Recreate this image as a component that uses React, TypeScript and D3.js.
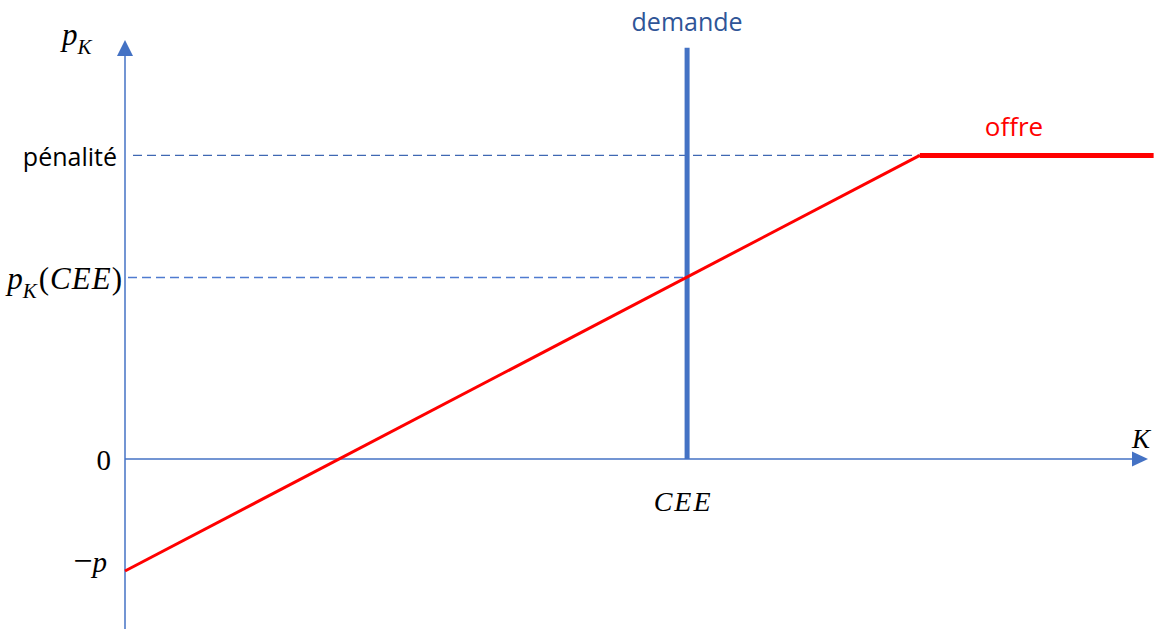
import { useEffect, useRef } from "react"
import * as d3 from "d3"

// abstract units
const kCEE = 5
const kKink = 7.07
const kEnd = 9.15
const pMinus = -1
const pCEE = 1.62
const pPenalty = 2.71
const pDemandTop = 3.67

const supplySlope = [
  { k: 0, p: pMinus },
  { k: kKink, p: pPenalty },
]
const supplyFlat = [
  { k: kKink, p: pPenalty },
  { k: kEnd, p: pPenalty },
]
const demand = [
  { k: kCEE, p: 0 },
  { k: kCEE, p: pDemandTop },
]

const axisBlue = "#4472c4"
const mathFont = "'Liberation Serif', 'DejaVu Serif', serif"
const textFont = "'Open Sans', Lato, sans-serif"

export default function App() {
  const svgRef = useRef(null)

  useEffect(() => {
    if (!svgRef.current) return
    const svg = d3.select(svgRef.current)
    svg.selectAll("*").remove()

    const width = 1154
    const height = 629

    const x = d3.scaleLinear().domain([0, 9.1]).range([125, 1148])
    const y = d3.scaleLinear().domain([-1.5, 3.74]).range([627, 40])

    const line = d3
      .line<{ k: number; p: number }>()
      .x((d) => x(d.k))
      .y((d) => y(d.p))

    // axes
    svg.append("line")
      .attr("x1", x(0)).attr("x2", x(0))
      .attr("y1", height).attr("y2", y(3.74) + 14)
      .attr("stroke", axisBlue).attr("stroke-width", 1.5)
    svg.append("path")
      .attr("d", `M${x(0)},${y(3.74)} L${x(0) - 8},${y(3.74) + 16} L${x(0) + 8},${y(3.74) + 16} Z`)
      .attr("fill", axisBlue)

    svg.append("line")
      .attr("x1", x(0)).attr("x2", x(9.1) - 14)
      .attr("y1", y(0)).attr("y2", y(0))
      .attr("stroke", axisBlue).attr("stroke-width", 1.5)
    svg.append("path")
      .attr("d", `M${x(9.1)},${y(0)} L${x(9.1) - 16},${y(0) - 7.5} L${x(9.1) - 16},${y(0) + 7.5} Z`)
      .attr("fill", axisBlue)

    // dashed guides
    svg.append("line")
      .attr("x1", x(0) + 8).attr("x2", x(kKink))
      .attr("y1", y(pPenalty)).attr("y2", y(pPenalty))
      .attr("stroke", "#3f68b3").attr("stroke-width", 1.3)
      .attr("stroke-dasharray", "9,5")
    svg.append("line")
      .attr("x1", x(0) + 3).attr("x2", x(kCEE))
      .attr("y1", y(pCEE)).attr("y2", y(pCEE))
      .attr("stroke", "#4f7bd0").attr("stroke-width", 1.5)
      .attr("stroke-dasharray", "9,5")

    // demand
    svg.append("path")
      .datum(demand)
      .attr("d", line)
      .attr("fill", "none")
      .attr("stroke", axisBlue)
      .attr("stroke-width", 5)

    // supply
    svg.append("path")
      .datum(supplySlope)
      .attr("d", line)
      .attr("fill", "none")
      .attr("stroke", "#ff0000")
      .attr("stroke-width", 3)
    svg.append("path")
      .datum(supplyFlat)
      .attr("d", line)
      .attr("fill", "none")
      .attr("stroke", "#ff0000")
      .attr("stroke-width", 5)

    // labels
    const pk = svg.append("text")
      .attr("x", 62).attr("y", 45)
      .attr("font-family", mathFont).attr("font-style", "italic").attr("font-size", 31)
    pk.append("tspan").text("p")
    pk.append("tspan").attr("dy", 9).attr("font-size", 21).text("K")

    svg.append("text")
      .attr("x", 117).attr("y", y(pPenalty) + 11)
      .attr("text-anchor", "end")
      .attr("font-family", textFont).attr("font-size", 25)
      .text("pénalité")

    const pkc = svg.append("text")
      .attr("x", 122).attr("y", y(pCEE) + 12)
      .attr("text-anchor", "end")
      .attr("font-family", mathFont).attr("font-size", 31)
    pkc.append("tspan").attr("font-style", "italic").text("p")
    pkc.append("tspan").attr("font-style", "italic").attr("dy", 9).attr("font-size", 21).text("K")
    pkc.append("tspan").attr("dy", -9).attr("dx", 2).text("(")
    pkc.append("tspan").attr("font-style", "italic").attr("dx", 1).attr("letter-spacing", 1).text("CEE")
    pkc.append("tspan").text(")")

    svg.append("text")
      .attr("x", 111).attr("y", y(0) + 11)
      .attr("text-anchor", "end")
      .attr("font-family", mathFont).attr("font-size", 29)
      .text("0")

    const mp = svg.append("text")
      .attr("x", 107).attr("y", y(pMinus) + 1)
      .attr("text-anchor", "end")
      .attr("font-family", mathFont).attr("font-size", 29)
    mp.append("tspan").attr("font-size", 34).text("−")
    mp.append("tspan").attr("font-style", "italic").text("p")

    svg.append("text")
      .attr("x", 1141).attr("y", 448)
      .attr("text-anchor", "middle")
      .attr("font-family", mathFont).attr("font-style", "italic").attr("font-size", 27)
      .text("K")

    svg.append("text")
      .attr("x", x(kCEE) - 4).attr("y", 511)
      .attr("text-anchor", "middle")
      .attr("font-family", mathFont).attr("font-style", "italic").attr("font-size", 28)
      .attr("letter-spacing", 2)
      .text("CEE")

    svg.append("text")
      .attr("x", x(kCEE)).attr("y", 31)
      .attr("text-anchor", "middle")
      .attr("font-family", textFont).attr("font-size", 25)
      .attr("fill", "#2f5597")
      .text("demande")

    svg.append("text")
      .attr("x", 1014).attr("y", 136)
      .attr("text-anchor", "middle")
      .attr("font-family", textFont).attr("font-size", 26)
      .attr("fill", "#ff0000")
      .text("offre")

    svg.attr("width", width).attr("height", height).attr("viewBox", [0, 0, width, height])
  }, [])

  return (
    <div style={{ position: "absolute", left: 0, top: 0, background: "#fff" }}>
      <svg ref={svgRef} style={{ display: "block" }}></svg>
    </div>
  )
}
